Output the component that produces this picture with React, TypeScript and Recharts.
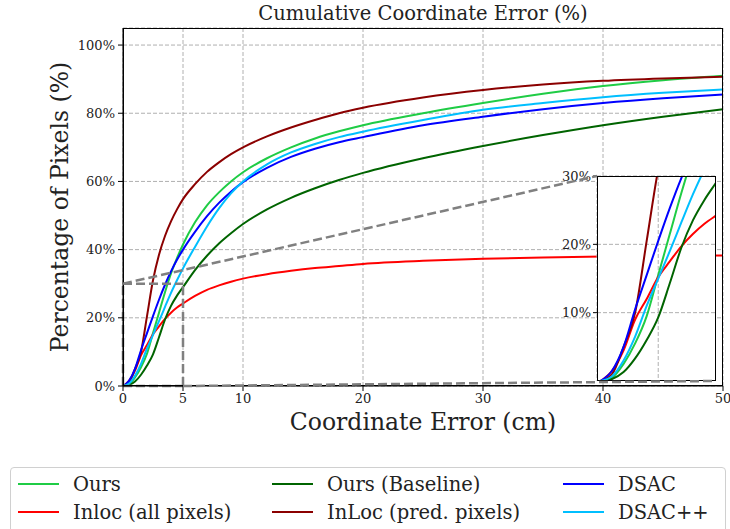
import React from 'react';
import { LineChart, Line, XAxis, YAxis, CartesianGrid, ReferenceLine } from 'recharts';

// coordinate error (cm)
const errorCm = [0, 0.5, 1, 1.5, 2, 2.5, 3, 3.5, 4, 4.5, 5, 6, 7, 8, 9, 10, 12, 14, 16, 18, 20, 25, 30, 35, 40, 45, 50];

// percentage of pixels below each error
const ours = [0, 0.5, 2.5, 5.5, 9.5, 15.5, 21.5, 27.5, 33, 37.5, 41.5, 48, 53, 56.8, 60, 62.7, 66.8, 70, 72.6, 74.7, 76.5, 80, 83, 85.7, 88, 89.7, 91];
const inlocAll = [0, 1.5, 4.5, 9, 12, 15.2, 17.5, 19.7, 21.5, 23, 24.2, 26.4, 28.2, 29.5, 30.6, 31.5, 32.8, 33.8, 34.6, 35.2, 35.8, 36.7, 37.3, 37.7, 38, 38.2, 38.3];
const oursBaseline = [0, 0.3, 1.3, 3.3, 6, 9.3, 14.3, 19.5, 23.5, 26.5, 29, 34, 38.2, 41.8, 44.8, 47.5, 51.8, 55.2, 58, 60.4, 62.5, 66.8, 70.4, 73.6, 76.5, 79, 81.2];
const inlocPred = [0, 1, 5, 10, 20.5, 31, 38.5, 44, 48.3, 51.8, 54.8, 59.2, 62.8, 65.6, 68, 70, 73.2, 75.8, 78, 80, 81.6, 84.6, 86.8, 88.4, 89.5, 90.2, 90.7];
const dsac = [0, 1.5, 5, 10.5, 15.5, 20.5, 25.3, 29.7, 33.6, 37, 40, 45.2, 49.8, 53.7, 57, 59.8, 64, 67.2, 69.6, 71.5, 73, 76.5, 79, 81.2, 83, 84.4, 85.5];
const dsacpp = [0, 0.7, 3, 6.5, 11, 15, 19, 23.2, 27.3, 31, 34.5, 40.8, 46.8, 52.1, 56.5, 60, 65, 68.5, 71, 73, 74.6, 78, 81, 83, 84.7, 86, 87];

const xTicks = [0, 5, 10, 20, 30, 40, 50];
const yTicks = [0, 20, 40, 60, 80, 100];
const insetYTicks = [10, 20, 30];
const insetXTicks = [2.5];

const series = [
  { key: 'ours', name: 'Ours', color: '#1fcc45', values: ours },
  { key: 'inlocAll', name: 'Inloc (all pixels)', color: '#ff0000', values: inlocAll },
  { key: 'oursBaseline', name: 'Ours (Baseline)', color: '#006400', values: oursBaseline },
  { key: 'inlocPred', name: 'InLoc (pred. pixels)', color: '#8b0000', values: inlocPred },
  { key: 'dsac', name: 'DSAC', color: '#0000ff', values: dsac },
  { key: 'dsacpp', name: 'DSAC++', color: '#00bfff', values: dsacpp },
];

const data = errorCm.map((x, i) => {
  const row: Record<string, number> = { x };
  series.forEach((s) => (row[s.key] = s.values[i]));
  return row;
});
const insetData = data.filter((d) => d.x <= 6);

const FONT = '"DejaVu Serif", serif';
const TXT = '#222';

// layout
const PLOT_L = 123, PLOT_T = 28, PLOT_R = 723, PLOT_B = 386;
const X_MAX = 50, Y_MAX = 105;
const INSET_L = 597, INSET_T = 176, INSET_W = 119, INSET_H = 205;
const px = (x: number) => PLOT_L + (x / X_MAX) * (PLOT_R - PLOT_L);
const py = (y: number) => PLOT_B - (y / Y_MAX) * (PLOT_B - PLOT_T);

const ZOOM_X = 5, ZOOM_Y = 30;
const zoomStroke = { stroke: '#808080', strokeWidth: 2.5, strokeDasharray: '9 4' };

const legendCols = [18, 272, 563];

export default function App() {
  const tick = { fontSize: 13, fill: TXT, fontFamily: FONT };
  return (
    <div style={{ position: 'absolute', left: 0, top: 0, width: 730, height: 529, background: '#fff', fontFamily: FONT, overflow: 'hidden' }}>
      <div style={{ position: 'absolute', left: PLOT_L, width: PLOT_R - PLOT_L, top: 2, textAlign: 'center', fontSize: 19.5, lineHeight: '24px', color: TXT }}>
        Cumulative Coordinate Error (%)
      </div>

      <div style={{ position: 'absolute', left: 0, top: 0 }}>
        <LineChart width={730} height={440} data={data} margin={{ top: PLOT_T, right: 730 - PLOT_R, bottom: 0, left: 0 }}>
          <CartesianGrid strokeDasharray="4 2" stroke="#b0b0b0" />
          <XAxis dataKey="x" type="number" domain={[0, X_MAX]} ticks={xTicks} interval={0} height={440 - PLOT_B}
            tick={tick} tickSize={5} tickMargin={3} stroke="#000" />
          <YAxis type="number" domain={[0, Y_MAX]} ticks={yTicks} interval={0} width={PLOT_L}
            tick={tick} tickSize={5} tickMargin={3} stroke="#000" tickFormatter={(v) => `${v}%`} />
          {series.map((s) => (
            <Line key={s.key} dataKey={s.key} type="monotone" stroke={s.color} strokeWidth={2} dot={false} isAnimationActive={false} />
          ))}
          <ReferenceLine segment={[{ x: 0, y: ZOOM_Y }, { x: ZOOM_X, y: ZOOM_Y }]} {...zoomStroke} />
          <ReferenceLine segment={[{ x: ZOOM_X, y: 0 }, { x: ZOOM_X, y: ZOOM_Y }]} {...zoomStroke} />
          <ReferenceLine segment={[{ x: 0, y: 0 }, { x: 0, y: ZOOM_Y }]} {...zoomStroke} />
          <ReferenceLine segment={[{ x: 0, y: 0 }, { x: ZOOM_X, y: 0 }]} {...zoomStroke} />
        </LineChart>
      </div>

      <div style={{ position: 'absolute', left: PLOT_L, top: PLOT_T, width: PLOT_R - PLOT_L, height: PLOT_B - PLOT_T, border: '1px solid #000', boxSizing: 'border-box', pointerEvents: 'none' }} />

      <div style={{ position: 'absolute', left: PLOT_L, width: PLOT_R - PLOT_L, top: 408, textAlign: 'center', fontSize: 23.5, lineHeight: '28px', color: TXT }}>
        Coordinate Error (cm)
      </div>
      <div style={{ position: 'absolute', left: 60, top: 207, transform: 'translate(-50%, -50%) rotate(-90deg)', whiteSpace: 'nowrap', fontSize: 23.5, lineHeight: '28px', color: TXT }}>
        Percentage of Pixels (%)
      </div>

      {/* inset */}
      <div style={{ position: 'absolute', left: INSET_L, top: INSET_T, width: INSET_W, height: INSET_H, background: '#fff' }} />
      <div style={{ position: 'absolute', left: INSET_L - 40, top: INSET_T - 10 }}>
        <LineChart width={INSET_W + 40} height={INSET_H + 10} data={insetData} margin={{ top: 10, right: 0, bottom: 0, left: 0 }}>
          <CartesianGrid strokeDasharray="4 2" stroke="#b0b0b0" />
          <XAxis dataKey="x" type="number" domain={[-0.15, 5]} ticks={insetXTicks} allowDataOverflow hide />
          <YAxis type="number" domain={[0, 30]} ticks={insetYTicks} interval={0} width={40} allowDataOverflow
            tick={tick} tickSize={4} tickMargin={2} stroke="#000" axisLine={false} tickFormatter={(v) => `${v}%`} />
          {series.map((s) => (
            <Line key={s.key} dataKey={s.key} type="monotone" stroke={s.color} strokeWidth={2} dot={false} isAnimationActive={false} />
          ))}
        </LineChart>
      </div>
      <div style={{ position: 'absolute', left: INSET_L, top: INSET_T, width: INSET_W, height: INSET_H, border: '1px solid #000', boxSizing: 'border-box', pointerEvents: 'none' }} />

      <svg width={730} height={529} style={{ position: 'absolute', left: 0, top: 0, pointerEvents: 'none' }}>
        <line x1={px(0)} y1={py(ZOOM_Y)} x2={INSET_L} y2={INSET_T} {...zoomStroke} />
        <line x1={px(ZOOM_X)} y1={py(0)} x2={INSET_L + INSET_W} y2={INSET_T + INSET_H} {...zoomStroke} />
      </svg>

      {/* legend */}
      <div style={{ position: 'absolute', left: 10, top: 467, width: 716, height: 80, border: '1px solid #d0d0d0', borderRadius: 4, boxSizing: 'border-box' }} />
      {series.map((s, i) => {
        const col = Math.floor(i / 2);
        const row = i % 2;
        const left = legendCols[col];
        const cy = 484 + row * 28;
        return (
          <div key={s.key} style={{ position: 'absolute', left, top: cy - 12, height: 24, display: 'flex', alignItems: 'center', whiteSpace: 'nowrap' }}>
            <span style={{ display: 'inline-block', width: 41, height: 2, background: s.color, marginRight: 14 }} />
            <span style={{ fontSize: 19.5, color: TXT }}>{s.name}</span>
          </div>
        );
      })}
    </div>
  );
}
